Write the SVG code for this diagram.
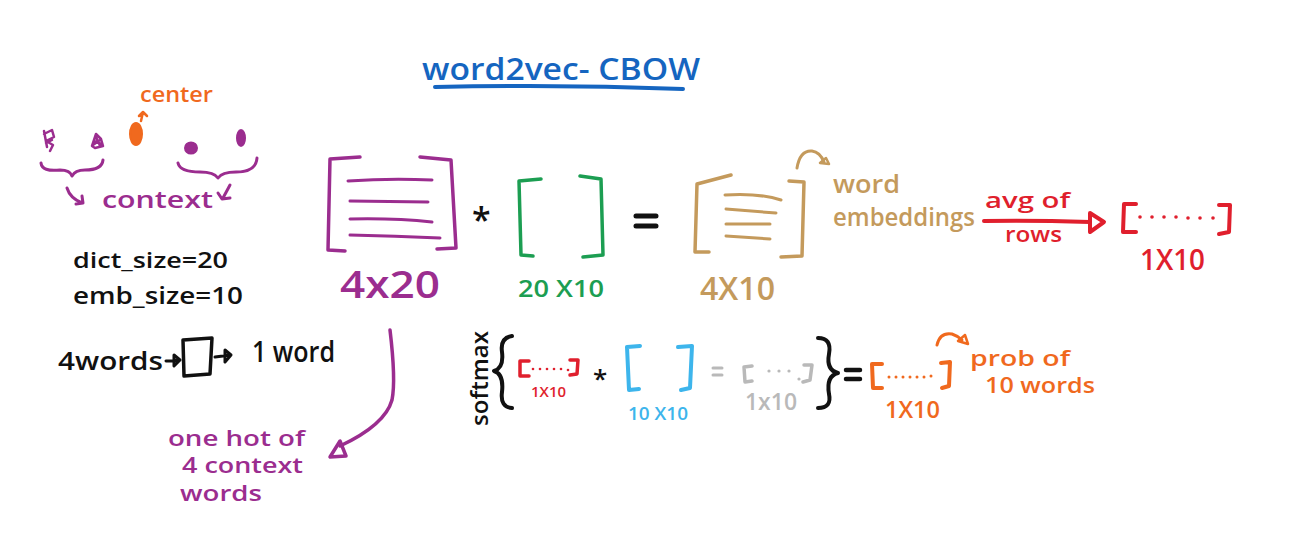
<svg xmlns="http://www.w3.org/2000/svg" width="1314" height="553" viewBox="0 0 1314 553">
<style>
text{font-family:"Open Sans","DejaVu Sans",sans-serif;font-weight:600}
.s{fill:none;stroke-linecap:round;stroke-linejoin:round}
</style>
<rect width="1314" height="553" fill="#fff"/>
<g id="title">
<text x="422" y="80" font-size="30" font-weight="700" fill="#1565c0" textLength="278" lengthAdjust="spacingAndGlyphs">word2vec- CBOW</text>
<path class="s" d="M435 87 Q560 84 683 89" stroke="#1565c0" stroke-width="4"/>
</g>
<g id="words-sequence">
<g class="s" stroke="#9b2d8f" stroke-width="2.5">
<path d="M44 131 L47 147 M44 134 L52 130 L54 137 L46 141 L53 145 L50 151 M46 143 L52 140"/>
<path d="M92 146 L96 134 L101 139 L103 146 L95 148 Z M94 141 L101 144 M96 137 L100 146 M93 145 L100 140"/>
</g>
<ellipse cx="191" cy="148" rx="6" ry="5.5" fill="#9b2d8f" stroke="#9b2d8f" stroke-width="2"/>
<ellipse cx="241" cy="138" rx="4" ry="8" fill="#9b2d8f" stroke="#9b2d8f" stroke-width="2"/>
<ellipse cx="136" cy="134" rx="6" ry="11" fill="#f0691e" stroke="#f0691e" stroke-width="2"/>
<path class="s" stroke="#f0691e" stroke-width="2.5" d="M141 121 L143 112 M139 116 L143 112 L147 116"/>
<text x="140" y="102" font-size="22" fill="#f0691e" textLength="73" lengthAdjust="spacingAndGlyphs">center</text>
<path class="s" stroke="#9b2d8f" stroke-width="3" d="M41 163 Q42 172 60 170 Q70 170 72 176 Q75 170 85 170 Q102 170 103 160"/>
<path class="s" stroke="#9b2d8f" stroke-width="3" d="M178 163 Q180 172 200 172 Q214 172 218 178 Q222 172 236 172 Q256 172 257 158"/>
<path class="s" stroke="#9b2d8f" stroke-width="3" d="M67 188 Q70 198 82 203 M76 204 L83 203 L82 196"/>
<path class="s" stroke="#9b2d8f" stroke-width="3" d="M230 185 L223 198 M218 193 L222 199 L230 198"/>
<text x="102" y="208" font-size="24" font-weight="400" fill="#9b2d8f" textLength="111" lengthAdjust="spacingAndGlyphs">context</text>
</g>
<g id="params">
<text x="73" y="268" font-size="22" font-weight="700" fill="#111" textLength="155" lengthAdjust="spacingAndGlyphs">dict_size=20</text>
<text x="73" y="304" font-size="24" font-weight="700" fill="#111" textLength="170" lengthAdjust="spacingAndGlyphs">emb_size=10</text>
<text x="58" y="370" font-size="26" font-weight="700" fill="#111" textLength="105" lengthAdjust="spacingAndGlyphs">4words</text>
<path class="s" stroke="#111" stroke-width="3" d="M166 361 L180 360 M174 355 L180 360 L174 366 Z"/>
<path class="s" stroke="#111" stroke-width="3.5" d="M183 340 L212 338 L210 374 L184 376 Z"/>
<path class="s" stroke="#111" stroke-width="3" d="M215 357 L231 355 M225 350 L231 355 L225 362 Z"/>
<text x="252" y="362" font-size="28" font-weight="400" fill="#111" textLength="83" lengthAdjust="spacingAndGlyphs">1 word</text>
</g>
<g id="matrix-4x20">
<path class="s" stroke="#9b2d8f" stroke-width="3.5" d="M360 157 L330 159 L328 250 L345 251 M420 157 L451 160 L456 248 L437 249"/>
<path class="s" stroke="#9b2d8f" stroke-width="3" d="M348 181 Q390 178 432 180 M350 201 L428 202 M350 219 Q395 218 432 222 M350 235 Q395 236 440 238"/>
<text x="340" y="298" font-size="38" font-weight="400" fill="#9b2d8f" textLength="100" lengthAdjust="spacingAndGlyphs">4x20</text>
</g>
<g id="op-mul1"><text x="472" y="232" font-size="34" font-weight="700" fill="#111">*</text></g>
<g id="matrix-20x10">
<path class="s" stroke="#1c9e52" stroke-width="3.5" d="M541 179 L519 181 L521 255 L533 256 M580 176 L601 179 L603 255 L583 257"/>
<text x="518" y="297" font-size="24" font-weight="400" fill="#1c9e52" textLength="86" lengthAdjust="spacingAndGlyphs">20 X10</text>
</g>
<g id="op-eq1"><path class="s" stroke="#111" stroke-width="5" d="M636 216 L656 216 M636 226 L656 226"/></g>
<g id="matrix-4x10">
<path class="s" stroke="#c49a5c" stroke-width="3.5" d="M731 175 L697 184 L695 252 L709 252 M789 181 L804 182 L802 256 L781 257"/>
<path class="s" stroke="#c49a5c" stroke-width="3" d="M725 195 Q760 193 781 200 M726 209 L776 213 M726 224 L770 224 M726 236 L770 239"/>
<text x="700" y="300" font-size="32" font-weight="400" fill="#c49a5c" textLength="75" lengthAdjust="spacingAndGlyphs">4X10</text>
<path class="s" stroke="#c49a5c" stroke-width="3" d="M797 168 Q800 150 812 151 Q820 152 824 162"/>
<path class="s" stroke="#c49a5c" stroke-width="2.5" d="M820 163 L829 164 L826 158 Z"/>
<text x="833" y="193" font-size="26" font-weight="400" fill="#c49a5c" textLength="67" lengthAdjust="spacingAndGlyphs">word</text>
<text x="833" y="226" font-size="26" font-weight="400" fill="#c49a5c" textLength="142" lengthAdjust="spacingAndGlyphs">embeddings</text>
</g>
<g id="connectors">
<path class="s" stroke="#e01f2d" stroke-width="4" d="M984 221 Q1030 220 1090 222"/>
<path class="s" stroke="#e01f2d" stroke-width="4" fill="#fff" d="M1090 213 L1104 222 L1090 232 Z"/>
<path class="s" stroke="#9b2d8f" stroke-width="3.5" d="M390 330 Q396 380 392 400 Q385 425 340 446"/>
<path class="s" stroke="#9b2d8f" stroke-width="3.5" d="M340 441 L330 457 L346 456 Z"/>
</g>
<g id="avg-vector">
<text x="985" y="208" font-size="22" font-weight="400" fill="#e01f2d" textLength="85" lengthAdjust="spacingAndGlyphs">avg of</text>
<text x="1005" y="242" font-size="22" font-weight="400" fill="#e01f2d" textLength="57" lengthAdjust="spacingAndGlyphs">rows</text>
<path class="s" stroke="#e01f2d" stroke-width="4" d="M1136 204 L1124 204 L1123 232 L1136 232 M1219 205 L1230 205 L1229 232 L1219 234"/>
<g fill="#e01f2d"><circle cx="1140" cy="217" r="1.8"/><circle cx="1152" cy="217" r="1.8"/><circle cx="1164" cy="217" r="1.8"/><circle cx="1176" cy="217" r="1.8"/><circle cx="1188" cy="218" r="1.8"/><circle cx="1200" cy="218" r="1.8"/><circle cx="1213" cy="218" r="1.8"/></g>
<text x="1140" y="270" font-size="28" font-weight="400" fill="#e01f2d" textLength="65" lengthAdjust="spacingAndGlyphs">1X10</text>
</g>
<g id="softmax-step">
<text transform="translate(488 426) rotate(-90)" font-size="24" font-weight="700" fill="#111" textLength="95" lengthAdjust="spacingAndGlyphs">softmax</text>
<path class="s" stroke="#111" stroke-width="4" d="M512 336 Q500 338 502 352 Q504 368 494 371 Q504 374 502 392 Q500 407 512 408"/>
<path class="s" stroke="#e01f2d" stroke-width="3.5" d="M529 361 L520 361 L520 376 L529 376 M570 360 L578 360 L577 374 L570 375"/>
<g fill="#e01f2d"><circle cx="533" cy="369" r="1.3"/><circle cx="540" cy="369" r="1.3"/><circle cx="547" cy="369" r="1.3"/><circle cx="554" cy="369" r="1.3"/><circle cx="561" cy="369" r="1.3"/><circle cx="568" cy="370" r="1.3"/></g>
<text x="531" y="397" font-size="14" fill="#e01f2d" textLength="35" lengthAdjust="spacingAndGlyphs">1X10</text>
<text x="593" y="388" font-size="26" font-weight="700" fill="#111">*</text>
<path class="s" stroke="#3db5ec" stroke-width="4" d="M640 346 L627 347 L629 390 L639 389 M678 347 L692 346 L690 388 L681 390"/>
<text x="628" y="420" font-size="18" font-weight="400" fill="#3db5ec" textLength="60" lengthAdjust="spacingAndGlyphs">10 X10</text>
<path class="s" stroke="#b9b9b9" stroke-width="3" d="M713 368 L722 368 M713 375 L722 375"/>
<path class="s" stroke="#b9b9b9" stroke-width="3.5" d="M752 366 L744 367 L745 382 L752 381 M804 365 L812 365 L810 380 L803 382"/>
<g fill="#b9b9b9"><circle cx="769" cy="371" r="1.6"/><circle cx="779" cy="371" r="1.6"/><circle cx="789" cy="371" r="1.6"/><circle cx="799" cy="379" r="1.6"/></g>
<text x="745" y="410" font-size="24" font-weight="400" fill="#b9b9b9" textLength="52" lengthAdjust="spacingAndGlyphs">1x10</text>
<path class="s" stroke="#111" stroke-width="4" d="M818 338 Q832 338 829 354 Q826 370 838 373 Q826 376 829 394 Q832 408 818 408"/>
<path class="s" stroke="#111" stroke-width="4.5" d="M846 370 L860 370 M846 379 L860 379"/>
<path class="s" stroke="#f0691e" stroke-width="4" d="M882 364 L872 364 L873 388 L882 388 M941 363 L950 362 L949 386 L942 388"/>
<g fill="#f0691e"><circle cx="889" cy="377" r="1.5"/><circle cx="896" cy="377" r="1.5"/><circle cx="903" cy="377" r="1.5"/><circle cx="910" cy="377" r="1.5"/><circle cx="917" cy="377" r="1.5"/><circle cx="924" cy="377" r="1.5"/><circle cx="931" cy="376" r="1.5"/></g>
<text x="885" y="418" font-size="24" font-weight="400" fill="#f0691e" textLength="55" lengthAdjust="spacingAndGlyphs">1X10</text>
<path class="s" stroke="#f0691e" stroke-width="3" d="M937 345 Q940 332 952 334 Q958 336 962 340"/>
<path class="s" stroke="#f0691e" stroke-width="2.5" d="M958 341 L968 344 L965 335 Z"/>
<text x="970" y="366" font-size="22" fill="#f0691e" textLength="100" lengthAdjust="spacingAndGlyphs">prob of</text>
<text x="985" y="393" font-size="22" fill="#f0691e" textLength="110" lengthAdjust="spacingAndGlyphs">10 words</text>
</g>
<g id="onehot-note">
<text x="168" y="446" font-size="22" font-weight="700" fill="#9b2d8f" textLength="137" lengthAdjust="spacingAndGlyphs">one hot of</text>
<text x="182" y="473" font-size="22" font-weight="700" fill="#9b2d8f" textLength="121" lengthAdjust="spacingAndGlyphs">4 context</text>
<text x="180" y="501" font-size="22" font-weight="700" fill="#9b2d8f" textLength="82" lengthAdjust="spacingAndGlyphs">words</text>
</g>
</svg>
